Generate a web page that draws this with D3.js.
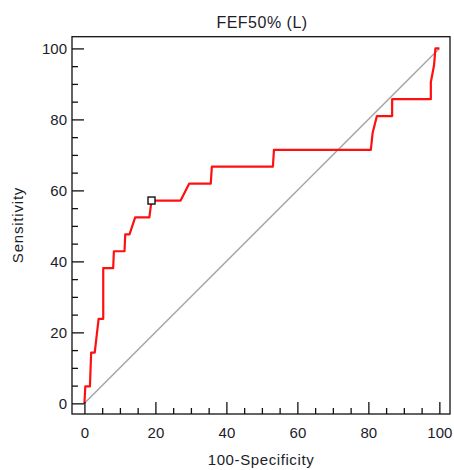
<!DOCTYPE html>
<html>
<head>
<meta charset="utf-8">
<script src="https://cdn.jsdelivr.net/npm/d3@7"></script>
<style>
  html, body { margin: 0; padding: 0; background: #fff; }
  svg { display: block; font-family: "Liberation Sans", Arial, sans-serif; }
</style>
</head>
<body>
<svg id="chart" width="454" height="470"></svg>
<script>
// ROC curve for FEF50% (L): 100-Specificity (x) vs Sensitivity (y), in percent
const falsePositiveRate = [0, 0.25, 1.55, 1.9, 2.9, 4.0, 5.3, 5.3, 8.1, 8.3, 11.3, 11.5, 12.7, 14.3, 18.3, 18.9,
  27.1, 29.5, 35.6, 35.9, 53.1, 53.4, 80.7, 81.2, 82.4, 86.7, 86.7, 97.6, 97.6, 98.5, 98.9, 100];
const sensitivity = [0, 4.76, 4.76, 14.29, 14.29, 23.81, 23.81, 38.1, 38.1, 42.86, 42.86, 47.62, 47.62, 52.38, 52.38, 57.14,
  57.14, 61.9, 61.9, 66.67, 66.67, 71.43, 71.43, 76.19, 80.95, 80.95, 85.71, 85.71, 90.48, 95.24, 100, 100];
// Optimal criterion point
const criterionPoint = [18.9, 57.14];
// Reference (chance) line
const chanceLine = [[0, 0], [100, 100]];
const majorTicks = [0, 20, 40, 60, 80, 100];
const minorTicks = d3.range(0, 101, 5).filter(v => v % 20 !== 0);

const titleText = "FEF50% (L)";
const xTitle = "100-Specificity";
const yTitle = "Sensitivity";

const svg = d3.select("#chart");
const plotLeft = 72, plotRight = 450, plotTop = 36.7, plotBottom = 414;

const x = d3.scaleLinear().domain([-3.5, 103]).range([plotLeft, plotRight]);
const y = d3.scaleLinear().domain([-3, 103.3]).range([plotBottom, plotTop]);

// chance diagonal
svg.append("path")
  .attr("d", d3.line().x(d => x(d[0])).y(d => y(d[1]))(chanceLine))
  .attr("fill", "none")
  .attr("stroke", "#a3a3a3")
  .attr("stroke-width", 1.4);

// ROC curve
const pts = falsePositiveRate.map((v, i) => [v, sensitivity[i]]);
svg.append("path")
  .attr("d", d3.line().x(d => x(d[0])).y(d => y(d[1]))(pts))
  .attr("fill", "none")
  .attr("stroke", "#ff1010")
  .attr("stroke-width", 2.2)
  .attr("stroke-linejoin", "round");

// criterion marker
svg.append("rect")
  .attr("x", x(criterionPoint[0]) - 3.5)
  .attr("y", y(criterionPoint[1]) - 3.5)
  .attr("width", 7)
  .attr("height", 7)
  .attr("fill", "#fff")
  .attr("stroke", "#111")
  .attr("stroke-width", 1.4);

// frame
svg.append("rect")
  .attr("x", plotLeft).attr("y", plotTop)
  .attr("width", plotRight - plotLeft).attr("height", plotBottom - plotTop)
  .attr("fill", "none")
  .attr("stroke", "#111")
  .attr("stroke-width", 1.3);

// axes with inward ticks
function styleAxis(g) {
  g.select(".domain").remove();
  g.selectAll(".tick line").attr("stroke", "#111").attr("stroke-width", 1.3);
  g.selectAll(".tick text").attr("font-size", 15).attr("fill", "#1c1c2a")
    .attr("font-family", "Liberation Sans, Arial, sans-serif");
}

svg.append("g")
  .attr("transform", `translate(${plotLeft},0)`)
  .call(d3.axisLeft(y).tickValues(majorTicks).tickSize(-12).tickPadding(5))
  .call(styleAxis);

svg.append("g")
  .attr("transform", `translate(${plotLeft},0)`)
  .call(d3.axisLeft(y).tickValues(minorTicks).tickSize(-6).tickFormat(""))
  .call(styleAxis);

svg.append("g")
  .attr("transform", `translate(0,${plotBottom})`)
  .call(d3.axisBottom(x).tickValues(majorTicks).tickSize(-12).tickPadding(13))
  .call(styleAxis);

svg.append("g")
  .attr("transform", `translate(0,${plotBottom})`)
  .call(d3.axisBottom(x).tickValues(minorTicks).tickSize(-6).tickFormat(""))
  .call(styleAxis);

// titles
svg.append("text")
  .attr("x", 262).attr("y", 28)
  .attr("text-anchor", "middle")
  .attr("font-size", 16)
  .attr("letter-spacing", 0.5)
  .attr("fill", "#1c1c2a")
  .text(titleText);

svg.append("text")
  .attr("x", 261).attr("y", 465)
  .attr("text-anchor", "middle")
  .attr("font-size", 15)
  .attr("letter-spacing", 0.6)
  .attr("fill", "#1c1c2a")
  .text(xTitle);

svg.append("text")
  .attr("transform", "translate(23,225) rotate(-90)")
  .attr("text-anchor", "middle")
  .attr("font-size", 15)
  .attr("letter-spacing", 0.8)
  .attr("fill", "#1c1c2a")
  .text(yTitle);
</script>
</body>
</html>
